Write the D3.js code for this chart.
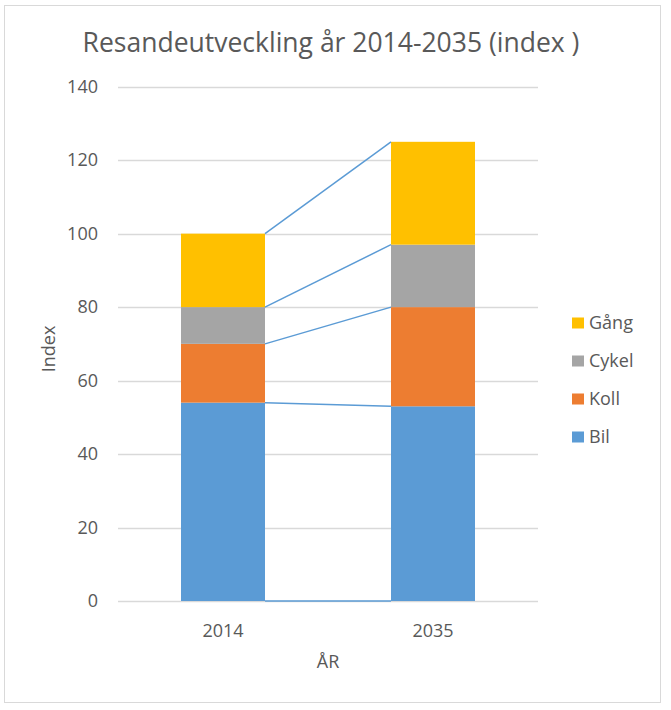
<!DOCTYPE html>
<html>
<head>
<meta charset="utf-8">
<script src="https://cdn.jsdelivr.net/npm/d3@7"></script>
<style>
  body { margin: 0; background: #fff; }
  svg { display: block; }
  text { font-family: "Open Sans", "Noto Sans", sans-serif; fill: #595959; }
</style>
</head>
<body>
<svg id="chart" width="671" height="710"></svg>
<script>
const years = ["2014", "2035"];
const seriesNames = ["Bil", "Koll", "Cykel", "Gång"];
const bil = [54, 53];
const koll = [16, 27];
const cykel = [10, 17];
const gang = [20, 28];
const yTicks = [0, 20, 40, 60, 80, 100, 120, 140];
const colors = ["#5b9bd5", "#ed7d31", "#a5a5a5", "#ffc000"];

(function () {
const rows = years.map((yr, i) => ({ year: yr, "Bil": bil[i], "Koll": koll[i], "Cykel": cykel[i], "Gång": gang[i] }));
const stacked = d3.stack().keys(seriesNames)(rows);

const svg = d3.select("#chart");
svg.append("rect").attr("x", 4.5).attr("y", 5.5).attr("width", 656).attr("height", 697)
  .attr("fill", "#fff").attr("stroke", "#d9d9d9").attr("stroke-width", 1);

const pLeft = 118, pRight = 538, pTop = 86.7, pBottom = 601;
const x = d3.scaleBand().domain(years).range([pLeft, pRight]).paddingInner(0.6).paddingOuter(0.3);
const y = d3.scaleLinear().domain([0, 140]).range([pBottom, pTop]);

// gridlines
svg.append("g").selectAll("line").data(yTicks).join("line")
  .attr("x1", pLeft).attr("x2", pRight)
  .attr("y1", d => Math.round(y(d)) + 0.5).attr("y2", d => Math.round(y(d)) + 0.5)
  .attr("stroke", "#d9d9d9").attr("stroke-width", 1.3);

// y axis labels
const yAxis = d3.axisLeft(y).tickValues(yTicks).tickSize(0).tickPadding(20);
const gy = svg.append("g").attr("transform", `translate(${pLeft},0)`).call(yAxis);
gy.select(".domain").remove();
gy.selectAll("text").style("font-size", "18px").attr("fill", "#595959")
  .style("font-family", '"Open Sans", sans-serif');

// bars
svg.append("g").selectAll("g").data(stacked).join("g")
  .attr("fill", (d, i) => colors[i])
  .selectAll("rect").data(d => d).join("rect")
  .attr("x", d => x(d.data.year))
  .attr("width", x.bandwidth())
  .attr("y", d => y(d[1]))
  .attr("height", d => y(d[0]) - y(d[1]));

// series lines
const lineLevels = [stacked[0].map(d => d[0])].concat(stacked.map(s => s.map(d => d[1])));
svg.append("g").selectAll("line").data(lineLevels).join("line")
  .attr("x1", x(years[0]) + x.bandwidth())
  .attr("x2", x(years[1]))
  .attr("y1", d => y(d[0]))
  .attr("y2", d => y(d[1]))
  .attr("stroke", "#5b9bd5").attr("stroke-width", 1.5);

// x axis labels
const xAxis = d3.axisBottom(x).tickSize(0).tickPadding(23);
const gx = svg.append("g").attr("transform", `translate(0,${pBottom})`).call(xAxis);
gx.select(".domain").remove();
gx.selectAll("text").style("font-size", "18px").attr("fill", "#595959")
  .style("font-family", '"Open Sans", sans-serif');

// title
svg.append("text").attr("x", 331).attr("y", 52).attr("text-anchor", "middle")
  .style("font-size", "26.5px").text("Resandeutveckling år 2014-2035 (index )");

// axis titles
svg.append("text").attr("x", 328).attr("y", 668).attr("text-anchor", "middle")
  .style("font-size", "18px").text("ÅR");
svg.append("text").attr("transform", "translate(55,349) rotate(-90)").attr("text-anchor", "middle")
  .style("font-size", "18px").text("Index");

// legend
const legendOrder = [3, 2, 1, 0];
const lg = svg.append("g").selectAll("g").data(legendOrder).join("g")
  .attr("transform", (d, i) => `translate(572,${323 + i * 38})`);
lg.append("rect").attr("x", 0).attr("y", -5.5).attr("width", 12).attr("height", 11)
  .attr("fill", d => colors[d]);
lg.append("text").attr("x", 17).attr("y", 0).attr("dy", "0.35em")
  .style("font-size", "18px").text(d => seriesNames[d]);
})();
</script>
</body>
</html>
